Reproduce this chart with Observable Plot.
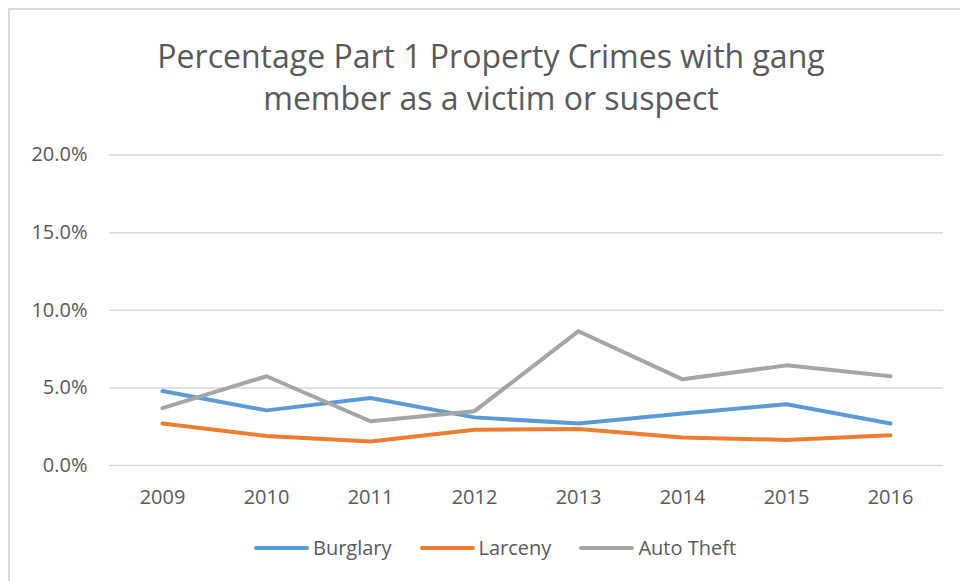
<!DOCTYPE html>
<html>
<head>
<meta charset="utf-8">
<script src="https://cdn.jsdelivr.net/npm/d3@7"></script>
<script src="https://cdn.jsdelivr.net/npm/@observablehq/plot@0.6"></script>
<style>
  html, body { margin: 0; padding: 0; background: #fff; overflow: hidden; width: 960px; height: 581px; }
  body { position: relative; font-family: "Open Sans", sans-serif; color: #595959; }
  #frame { position: absolute; left: 8px; top: 8px; width: 1000px; height: 620px; border: 2.5px solid #d9d9d9; box-sizing: border-box; }
  #title { position: absolute; left: 0; width: 982px; top: 34.5px; text-align: center; font-size: 32px; line-height: 42px; color: #595959; }
  #chart { position: absolute; left: 0; top: 130px; }
  #legend { position: absolute; left: 0; width: 990px; top: 534px; display: flex; justify-content: center; align-items: center; font-size: 20px; color: #595959; }
  .item { display: flex; align-items: center; margin: 0 14px; }
  .sw { width: 55px; height: 4px; border-radius: 2px; margin-right: 4px; }
</style>
</head>
<body>
<div id="frame"></div>
<div id="title">Percentage Part 1 Property Crimes with gang<br>member as a victim or suspect</div>
<div id="chart"></div>
<div id="legend"></div>
<script>
const years = ["2009", "2010", "2011", "2012", "2013", "2014", "2015", "2016"];
const seriesNames = ["Burglary", "Larceny", "Auto Theft"];
const burglary  = [4.8, 3.55, 4.35, 3.1, 2.7, 3.35, 3.95, 2.7];
const larceny   = [2.7, 1.9, 1.55, 2.3, 2.35, 1.8, 1.65, 1.95];
const autoTheft = [3.7, 5.75, 2.85, 3.5, 8.65, 5.55, 6.45, 5.75];
const yTicks = [0, 0.05, 0.10, 0.15, 0.20];
const colors = ["#5b9bd5", "#ed7d31", "#a5a5a5"];

const seriesValues = [burglary, larceny, autoTheft];
const data = [];
seriesNames.forEach((name, si) => {
  years.forEach((yr, i) => data.push({ series: name, year: yr, value: seriesValues[si][i] / 100 }));
});

const chart = Plot.plot({
  width: 960,
  height: 390,
  marginLeft: 109,
  marginRight: 17,
  marginTop: 24.5,
  marginBottom: 55,
  style: { fontFamily: "Open Sans, sans-serif", color: "#595959", background: "transparent", overflow: "visible" },
  x: { type: "point", domain: years, padding: 0.5, label: null },
  y: { domain: [0, 0.2], label: null },
  color: { domain: seriesNames, range: colors },
  marks: [
    Plot.gridY(yTicks, { stroke: "#d9d9d9", strokeOpacity: 1, strokeWidth: 1.5 }),
    Plot.axisY(yTicks, { tickSize: 0, tickPadding: 22, tickFormat: d3.format(".1%"), fontSize: 20, fill: "#595959", label: null }),
    Plot.axisX({ tickSize: 0, tickPadding: 24, fontSize: 20, fill: "#595959", label: null }),
    Plot.line(data, { x: "year", y: "value", z: "series", stroke: "series", strokeWidth: 4, strokeLinecap: "round", strokeLinejoin: "round" })
  ]
});
document.getElementById("chart").appendChild(chart);

const legend = document.getElementById("legend");
seriesNames.forEach((name, i) => {
  const it = document.createElement("div");
  it.className = "item";
  const sw = document.createElement("div");
  sw.className = "sw";
  sw.style.background = colors[i];
  const tx = document.createElement("span");
  tx.textContent = name;
  it.appendChild(sw);
  it.appendChild(tx);
  legend.appendChild(it);
});
</script>
</body>
</html>
